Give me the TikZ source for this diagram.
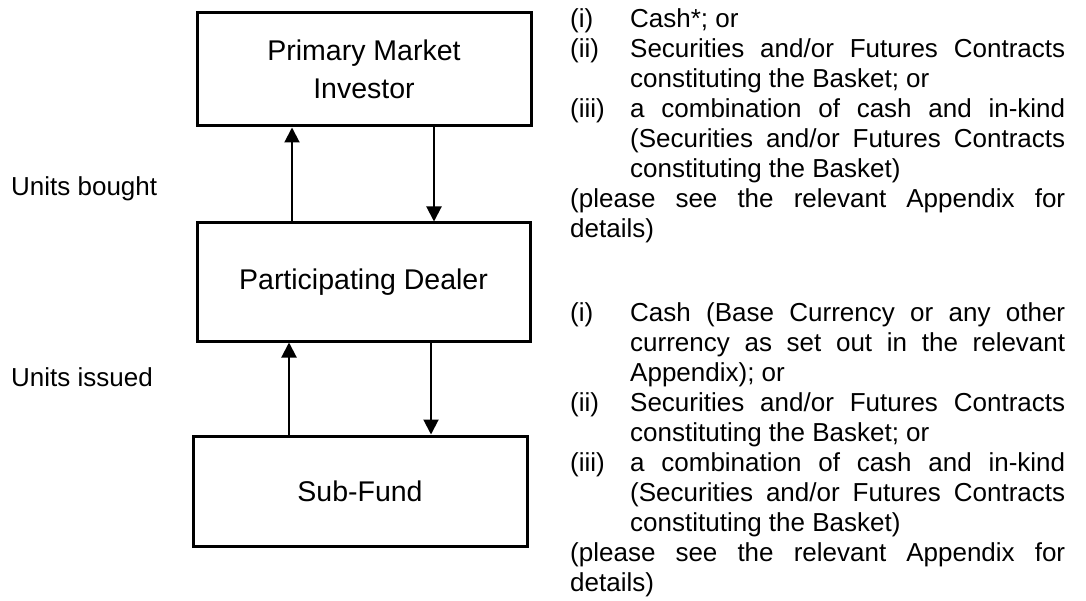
\documentclass[tikz,border=0pt]{standalone}
\usepackage{fontspec}
\setmainfont{Liberation Sans}
\usetikzlibrary{arrows.meta}
\newcommand{\ItJ}[2]{\hbox to 495pt{\hbox to 60pt{#1\hfil}\hbox to 435pt{#2}}}
\newcommand{\ItR}[2]{\hbox to 495pt{\hbox to 60pt{#1\hfil}#2\hfil}}
\newcommand{\FuJ}[1]{\hbox to 495pt{#1}}
\newcommand{\FuR}[1]{\hbox to 495pt{#1\hfil}}
\begin{document}
\begin{tikzpicture}[x=1pt,y=-1pt,
  box/.style={draw, line width=3pt, inner sep=0pt, font=\fontsize{28.5}{38}\selectfont, align=center},
  flow/.style={line width=2pt, -{Triangle[length=15pt,width=15pt]}},
  lbl/.style={font=\fontsize{26}{30}\selectfont, inner sep=0pt, anchor=base west},
  blk/.style={font=\fontsize{26}{30}\selectfont, inner sep=0pt, anchor=base west}]
\useasboundingbox (0,0) rectangle (1086,601);
\node[box, minimum width=334pt, minimum height=113pt] (inv) at (364,69.5) {Primary Market\\Investor};
\node[box, minimum width=333pt, minimum height=118pt] (pd) at (363.5,282) {Participating Dealer};
\node[box, minimum width=334pt, minimum height=110pt] (sf) at (360,491) {Sub-Fund};
\coordinate (u1) at (292,0);
\coordinate (d1) at (434,0);
\coordinate (u2) at (289,0);
\coordinate (d2) at (431,0);
\draw[flow] (pd.north -| u1) -- (inv.south -| u1);
\draw[flow] (inv.south -| d1) -- (pd.north -| d1);
\draw[flow] (sf.north -| u2) -- (pd.south -| u2);
\draw[flow] (pd.south -| d2) -- (sf.north -| d2);
\node[lbl] (ub) at (11,196) {Units bought};
\node[lbl] (ui) at (11,386) {Units issued};
\node[blk] (c1) at (570,27.5) {\begin{minipage}[t]{495pt}\fontsize{26}{30}\selectfont
\ItR{(i)}{Cash*; or}
\ItJ{(ii)}{Securities and/or Futures Contracts}
\ItR{}{constituting the Basket; or}
\ItJ{(iii)}{a combination of cash and in-kind}
\ItJ{}{(Securities and/or Futures Contracts}
\ItR{}{constituting the Basket)}
\FuJ{(please see the relevant Appendix for}
\FuR{details)}
\end{minipage}};
\node[blk] (c2) at (570,321) {\begin{minipage}[t]{495pt}\fontsize{26}{30}\selectfont
\ItJ{(i)}{Cash (Base Currency or any other}
\ItJ{}{currency as set out in the relevant}
\ItR{}{Appendix); or}
\ItJ{(ii)}{Securities and/or Futures Contracts}
\ItR{}{constituting the Basket; or}
\ItJ{(iii)}{a combination of cash and in-kind}
\ItJ{}{(Securities and/or Futures Contracts}
\ItR{}{constituting the Basket)}
\FuJ{(please see the relevant Appendix for}
\FuR{details)}
\end{minipage}};
\end{tikzpicture}
\end{document}
